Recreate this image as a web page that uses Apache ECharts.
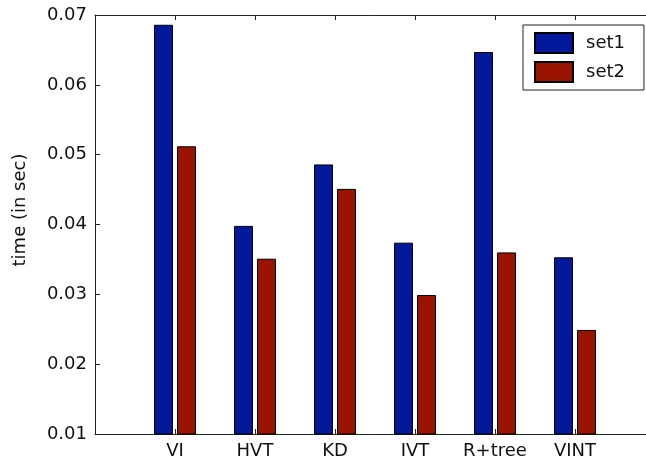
<!DOCTYPE html>
<html>
<head>
<meta charset="utf-8">
<script src="https://cdn.jsdelivr.net/npm/echarts@6/dist/echarts.min.js"></script>
<style>
html,body{margin:0;padding:0;background:#fff;}
#chart{width:646px;height:465px;}
</style>
</head>
<body>
<div id="chart"></div>
<script>
const categories = ['VI', 'HVT', 'KD', 'IVT', 'R+tree', 'VINT'];
const set1 = [0.0686, 0.0398, 0.0486, 0.0374, 0.0647, 0.0353];
const set2 = [0.0512, 0.0351, 0.0451, 0.0299, 0.0360, 0.0249];
const yTicks = [0.01, 0.02, 0.03, 0.04, 0.05, 0.06, 0.07];
const seriesNames = ['set1', 'set2'];
const yTitle = 'time (in sec)';

const FONT = 'DejaVu Sans';
const TXT = '#111';
const chart = echarts.init(document.getElementById('chart'), null, {renderer: 'canvas'});

const toPairs = arr => arr.map((v, i) => [i + 1, v]);

// plot box: x from 95 to ~655 (the frame runs past the right edge of the picture)
const GRID_LEFT = 95, GRID_W = 560;
const X_MAX = categories.length + 1;

const xCommon = {
  type: 'value', min: 0, max: X_MAX, interval: 1,
  axisLine: {show: true, lineStyle: {color: '#222', width: 1}},
  axisTick: {show: true, inside: true, length: 5, lineStyle: {color: '#222'}},
  splitLine: {show: false}
};

chart.setOption({
  animation: false,
  backgroundColor: '#fff',
  grid: {left: GRID_LEFT, top: 15, width: GRID_W, height: 419,
    containLabel: false, outerBoundsMode: 'none'},
  legend: {
    orient: 'vertical', left: 523, top: 25,
    padding: [7, 19, 7, 11],
    itemWidth: 38, itemHeight: 20, itemGap: 7,
    icon: 'rect',
    borderColor: '#222', borderWidth: 1, backgroundColor: '#fff',
    textStyle: {fontFamily: FONT, fontSize: 18, color: TXT, padding: [0, 0, 0, 8]},
    data: seriesNames
  },
  xAxis: [
    Object.assign({}, xCommon, {
      position: 'bottom',
      axisLabel: {
        show: true, margin: 8, fontFamily: FONT, fontSize: 18, color: TXT,
        formatter: v => (Number.isInteger(v) && v >= 1 && v <= categories.length) ? categories[v - 1] : ''
      }
    }),
    Object.assign({}, xCommon, {position: 'top', axisLabel: {show: false}})
  ],
  yAxis: {
    type: 'value', min: yTicks[0], max: yTicks[yTicks.length - 1], interval: 0.01,
    axisLine: {show: true, lineStyle: {color: '#222', width: 1}},
    axisTick: {show: true, inside: true, length: 5, lineStyle: {color: '#222'}},
    splitLine: {show: false},
    axisLabel: {margin: 8, fontFamily: FONT, fontSize: 18, color: TXT,
      formatter: v => v.toFixed(2)}
  },
  graphic: [{
    type: 'text', id: 'ytitle',
    x: 20, y: 210, rotation: Math.PI / 2,
    style: {text: yTitle, font: '18px ' + FONT, fill: TXT, align: 'center', verticalAlign: 'middle'}
  }],
  series: [
    {
      name: seriesNames[0], type: 'bar', xAxisIndex: 0, data: toPairs(set1),
      barWidth: 19, barGap: '21%',
      itemStyle: {color: '#03189a', borderColor: '#000', borderWidth: 1}
    },
    {
      name: seriesNames[1], type: 'bar', xAxisIndex: 0, data: toPairs(set2),
      barWidth: 19, barGap: '21%',
      itemStyle: {color: '#991400', borderColor: '#000', borderWidth: 1}
    }
  ]
});
</script>
</body>
</html>
